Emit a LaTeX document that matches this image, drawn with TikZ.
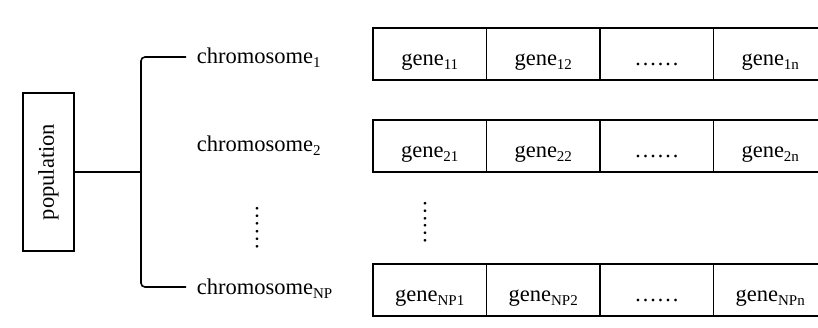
\documentclass[tikz,border=0pt]{standalone}
\usepackage{fontspec}
\setmainfont{Liberation Serif}
% lowered, smaller index text
\newcommand\lowsub[1]{\raisebox{-4pt}{\fontsize{15}{15}\selectfont #1}}

\begin{document}
\begin{tikzpicture}[x=1pt,y=-1pt,line width=1.6pt,
  every node/.style={font=\fontsize{22.5}{24}\selectfont},
  cell/.style={draw,minimum width=113.5pt,minimum height=52pt,inner sep=0pt,
    text height=24pt,text depth=2pt,anchor=center},
  chrlabel/.style={anchor=base west,inner sep=0pt},
  vdots/.style={rotate=90,inner sep=0pt}]
\useasboundingbox (0,0) rectangle (818,327);
\clip (0,0) rectangle (818,327);

% population block
\node[draw,rotate=90,minimum width=158pt,minimum height=51pt,inner sep=0pt]
  (pop) at (48.5,172) {population};

% chromosome labels
\node[chrlabel] (chr1) at (196,63) {chromosome\lowsub{1}};
\node[chrlabel] (chr2) at (196,151) {chromosome\lowsub{2}};
\node[chrlabel] (chrNP) at (196,294) {chromosome\lowsub{NP}};
\node[vdots] (cdots) at (257,227.5) {……};

% bracket joining the population to its chromosomes
\coordinate (hub) at (141,172);
\coordinate (bktop) at (141,57);
\coordinate (bkbot) at (141,287);
\coordinate (arm1) at (186,57);
\coordinate (armNP) at (186,287);
\draw (pop.south) -- (hub);
\draw[rounded corners=4pt] (arm1) -- (bktop) -- (bkbot) -- (armNP);

% gene cells
\foreach \r/\y/\a/\b/\c in {1/54/11/12/1n, 2/146/21/22/2n, 3/290/NP1/NP2/NPn}{
  \node[cell] (g\r a) at (429.75,\y) {gene\lowsub{\a}};
  \node[cell] (g\r b) at (543.25,\y) {gene\lowsub{\b}};
  \node[cell] (g\r c) at (656.75,\y) {……};
  \node[cell] (g\r d) at (770.25,\y) {gene\lowsub{\c}};
}
\node[vdots] (gdots) at (425,222) {……};
\end{tikzpicture}
\end{document}
